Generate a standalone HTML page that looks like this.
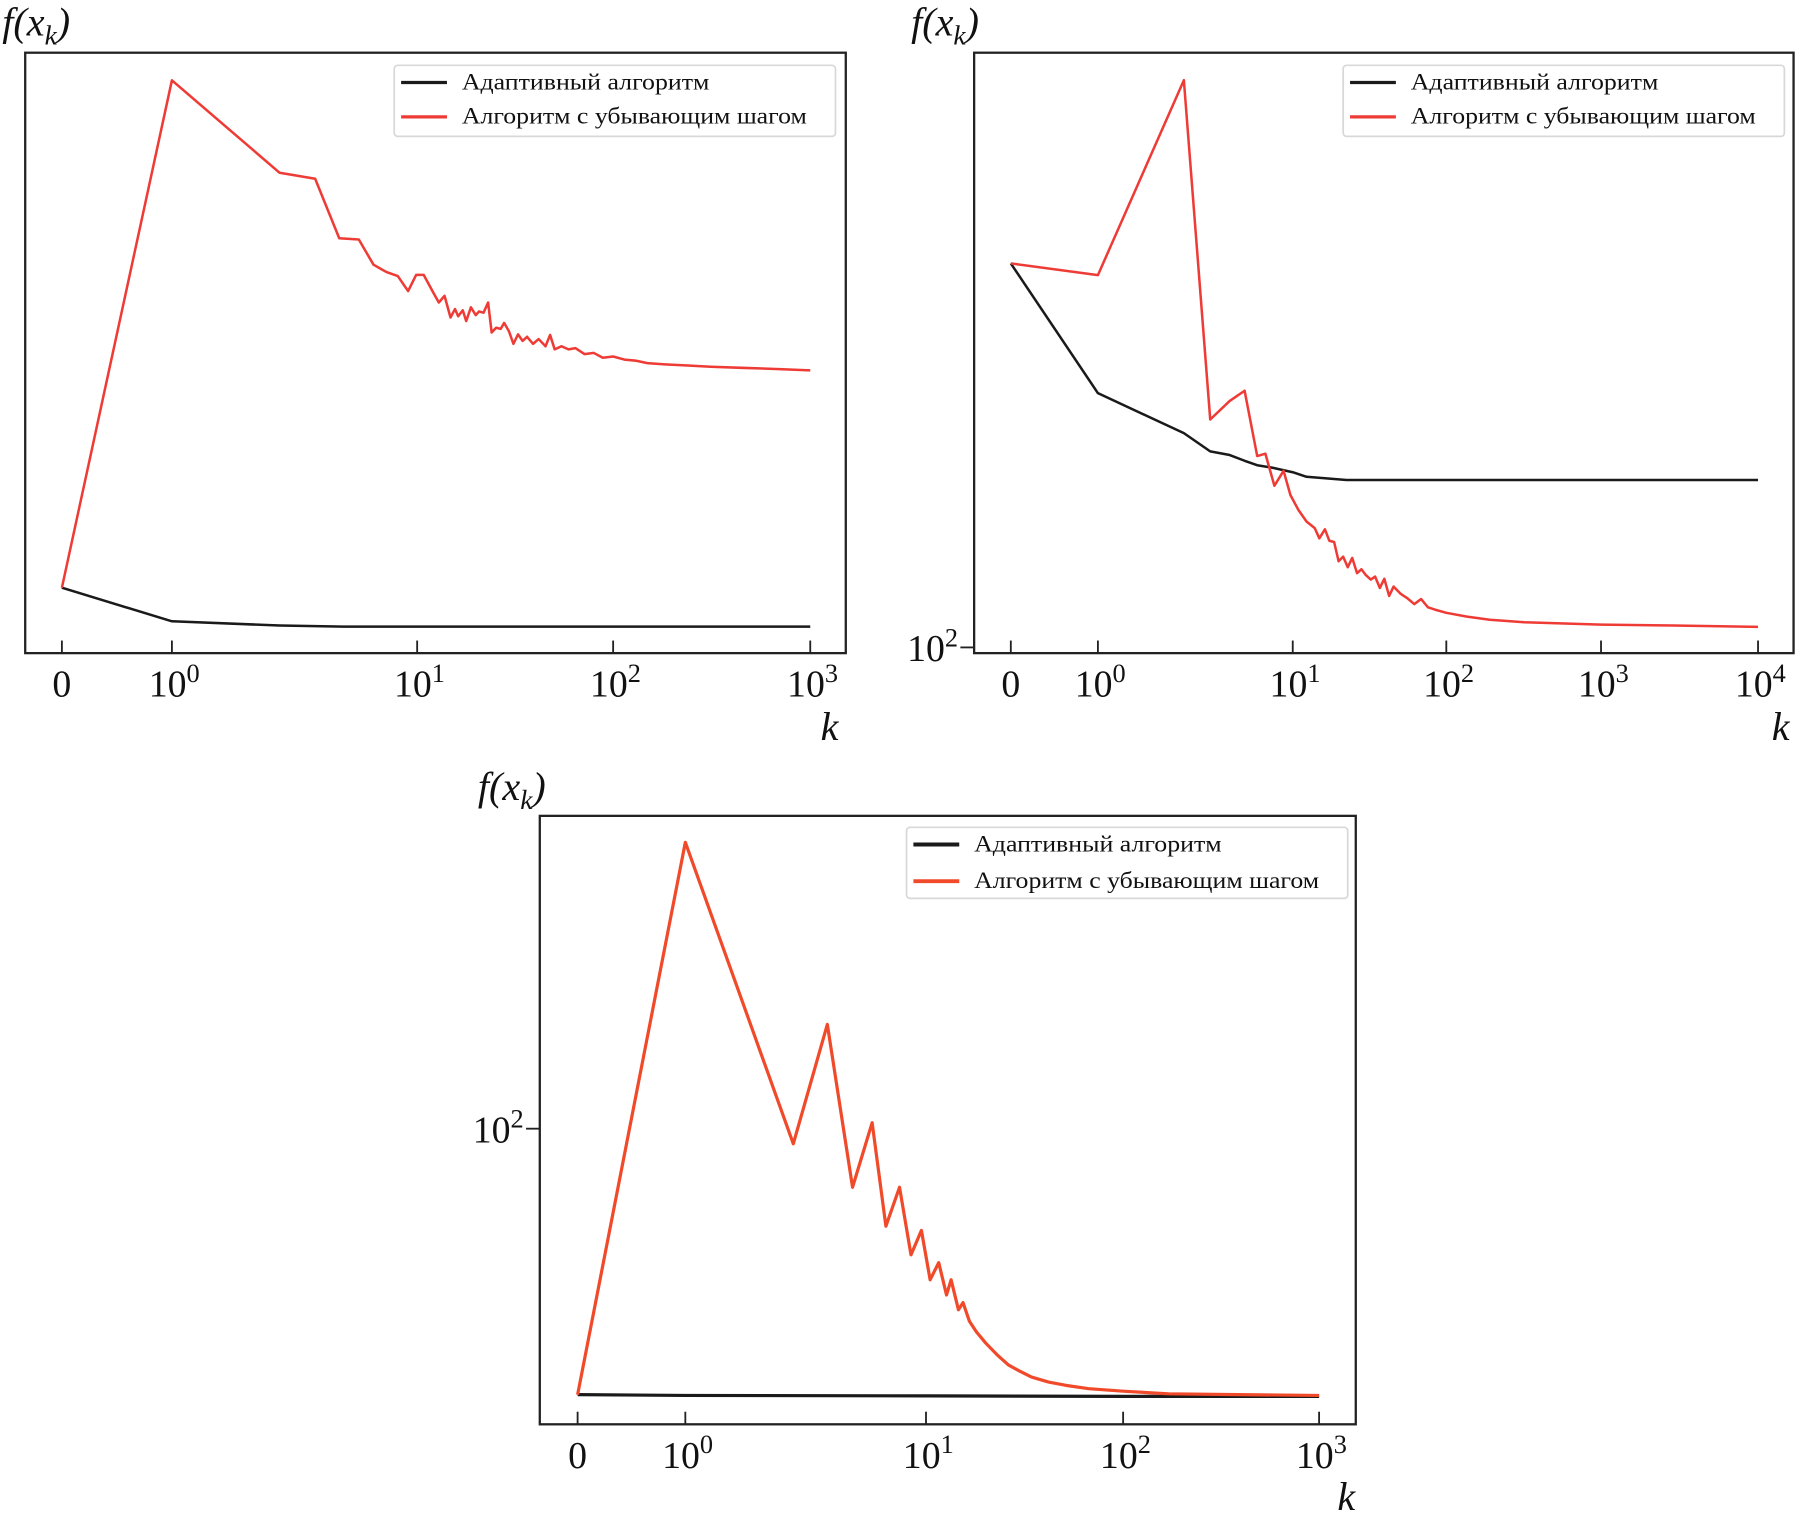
<!DOCTYPE html>
<html><head><meta charset="utf-8"><style>
html,body{margin:0;padding:0;background:#fff;}
svg{display:block;}
text{font-family:"Liberation Serif",serif;fill:#111;}
</style></head><body>
<svg id="fig" width="1797" height="1524" viewBox="0 0 1568 1330" preserveAspectRatio="none" xmlns="http://www.w3.org/2000/svg"></svg>
<script>
// ---------- Chart 1 data ----------
const c1RedK = [0,1,2.75,3.84,4.81,5.78,6.64,7.48,8.34,9.19,9.9,10.8,12.1,12.9,13.8,14.8,15.6,16.2,17.1,17.8,18.8,19.9,20.7,21.8,23.0,24.0,25.3,26.7,27.8,29.4,31.0,32.7,34.5,36.4,39.0,41.7,45.2,47.7,50.3,54.5,59.2,64.1,71.4,79.6,88.6,100,114,131,149,183,239,312,466,697,1000];
const c1RedV = [10.9,95.4,80.0,79.0,69.1,68.9,64.7,63.5,62.8,60.3,63.0,63.0,60.0,58.4,59.5,55.9,57.3,56.1,57.1,55.3,57.6,56.3,56.9,56.7,58.4,53.4,54.2,54.0,55.0,53.6,51.5,53.1,52.0,52.7,51.5,52.3,51.1,53.0,50.6,51.1,50.6,50.8,49.8,50.0,49.2,49.4,48.9,48.7,48.3,48.1,47.9,47.7,47.5,47.3,47.1];
const c1BlackK = [0,1,2.75,5,10,1000];
const c1BlackV = [10.9,5.3,4.6,4.4,4.4,4.4];
const c1TickLabels = ["0","10|0","10|1","10|2","10|3"];
// ---------- Chart 2 data ----------
const c2RedK = [0,1,2.76,3.77,4.75,5.66,6.57,7.23,8.05,8.97,9.73,10.9,12.3,13.9,14.9,16.2,17.3,18.6,19.9,21.3,22.8,24.4,26.2,28.0,30.0,32.2,34.4,36.9,39.5,42.4,45.4,50.3,55.7,61.8,68.5,76.0,84.2,100,136,191,319,1000,2884,10000];
const c2RedV = [216.3,211.3,312.6,158.1,164.1,167.5,146.9,147.6,138.4,142.6,135.8,131.8,128.8,127.1,124.5,126.8,123.9,123.6,118.9,120.0,117.5,119.7,116.1,117.0,115.6,114.6,115.3,112.7,114.8,110.9,113.0,111.4,110.4,109.1,110.2,108.4,107.9,107.2,106.4,105.7,105.2,104.7,104.5,104.2];
const c2BlackK = [0,1,2.76,3.77,4.75,5.66,6.57,7.83,10,12.3,22.4,34.4,10000];
const c2BlackV = [216.3,166.7,153.8,148.3,147.2,145.5,144.2,143.5,142.2,140.9,140.0,140.0,140.0];
const c2TickLabels = ["0","10|0","10|1","10|2","10|3","10|4"];
// ---------- Chart 3 data ----------
const c3RedK = [0,1,2.81,3.89,4.95,5.97,6.81,7.76,8.66,9.57,10.5,11.6,12.7,13.4,14.6,15.4,16.6,18.0,20.1,22.9,26.2,30.0,34.3,41.9,51.2,66.9,100,171,384,1000];
const c3RedV = [58.6,177.8,97.0,123.3,88.9,101.2,82.2,88.9,77.6,81.5,73.8,76.4,71.6,73.8,69.5,70.5,67.9,66.5,65.0,63.5,62.2,61.4,60.7,60.1,59.7,59.3,59.0,58.7,58.6,58.5];
const c3BlackK = [0,1,10,100,1000];
const c3BlackV = [58.6,58.5,58.45,58.4,58.4];
const c3TickLabels = ["0","10|0","10|1","10|2","10|3"];

const NS = "http://www.w3.org/2000/svg";
const svg = document.getElementById('fig');
function mk(tag, attrs, parent){const e=document.createElementNS(NS,tag);for(const k in attrs)e.setAttribute(k,attrs[k]);(parent||svg).appendChild(e);return e;}
function symT(k){return k<=1?k:1+Math.log10(k);}

function drawChart(o){
  const g = mk('g',{});
  
  
  const xs = k => { const t=symT(k); const i=Math.min(Math.floor(t),o.tickPx.length-2); return o.tickPx[i]+(t-i)*(o.tickPx[i+1]-o.tickPx[i]); };
  const ys = o.ys;
  const fr = mk('rect',{x:o.x0,y:o.y0,width:o.x1-o.x0,height:o.y1-o.y0,fill:'none',stroke:'#222','stroke-width':2},g);
  
  
  o.tickPx.forEach((p,i)=>{
    const tk = mk('line',{x1:p,x2:p,y1:o.y1,y2:o.y1-11,stroke:'#222','stroke-width':1.6},g);
    
    
    const parts = o.labels[i].split('|');
    const t = mk('text',{x:p,y:o.y1+38,'font-size':33,'text-anchor':'middle'},g);
    
    
    if(parts.length===1){t.textContent=parts[0];}
    else{
      const a=mk('tspan',{},t);a.textContent=parts[0];
      const b=mk('tspan',{dy:-13,'font-size':23},t);b.textContent=parts[1];
      t.setAttribute('x',p+2);
    }
  });
  if(o.yTick){
    const yy = ys(o.yTick);
    const tk = mk('line',{x1:o.x0,x2:o.x0-12,y1:yy,y2:yy,stroke:'#222','stroke-width':1.6},g);
    
    
    const t = mk('text',{x:o.x0-14,y:yy+12,'font-size':33,'text-anchor':'end'},g);
    
    
    const a=mk('tspan',{},t);a.textContent='10';
    const b=mk('tspan',{dy:-13,'font-size':23},t);b.textContent='2';
  }
  function series(K,V,color,w,name){
    const d = K.map((k,i)=>(i?'L':'M')+xs(k).toFixed(1)+' '+ys(V[i]).toFixed(1)).join(' ');
    const p = mk('path',{d:d,fill:'none',stroke:color,'stroke-width':w,'stroke-linejoin':'round'},g);
    
    
  }
  series(o.bK,o.bV,'#1a1a1a',o.w,'adaptive-line');
  series(o.rK,o.rV,o.red,o.w,'decreasing-step-line');
  const L = mk('g',{},g);
  
  
  mk('rect',{x:o.lx,y:o.ly,width:385,height:62,rx:3,fill:'#fff',stroke:'#d8d8d8','stroke-width':1.5},L);
  const rows=[['Адаптивный алгоритм','#1a1a1a',15,216],['Алгоритм с убывающим шагом',o.red,o.ly2,301]];
  rows.forEach((r,i)=>{
    const yy=o.ly+(i?r[2]:15);
    const ln=mk('line',{x1:o.lx+6,x2:o.lx+46,y1:yy,y2:yy,stroke:r[1],'stroke-width':o.w+0.6},L);
    
    
    const t=mk('text',{x:o.lx+59,y:yy+6,'font-size':20,textLength:r[3],lengthAdjust:'spacingAndGlyphs'},L);
    t.textContent=r[0];
    
    
  });
  const fy = mk('text',{x:o.fx,y:o.fy,'font-size':35,'font-style':'italic'},g);
  
  
  const s1=mk('tspan',{},fy);s1.textContent='f(x';
  const s2=mk('tspan',{dy:8,'font-size':24},fy);s2.textContent='k';
  const s3=mk('tspan',{dy:-8},fy);s3.textContent=')';
  const kx = mk('text',{x:o.kx,y:o.ky,'font-size':35,'font-style':'italic'},g);
  kx.textContent='k';
  
  
}

drawChart({name:'chart-top-left',x0:22,x1:738,y0:46,y1:570,tickPx:[54,150,364,535,707],labels:c1TickLabels,
  ys:v=>570-v*5.24,rK:c1RedK,rV:c1RedV,bK:c1BlackK,bV:c1BlackV,red:'#ee3b36',w:2.2,
  lx:344,ly:57,ly2:45,fx:2,fy:31,kx:716,ky:646});
drawChart({name:'chart-top-right',x0:850,x1:1565,y0:46,y1:570,tickPx:[882,958,1128,1262,1397,1534],labels:c2TickLabels,
  ys:v=>565-1000*Math.log10(v/100),yTick:100,rK:c2RedK,rV:c2RedV,bK:c2BlackK,bV:c2BlackV,red:'#ee3b36',w:2.2,
  lx:1172,ly:57,ly2:45,fx:795,fy:31,kx:1546,ky:646});
drawChart({name:'chart-bottom',x0:471,x1:1183,y0:712,y1:1243,tickPx:[504,598,808,980,1151],labels:c3TickLabels,
  ys:v=>985-1000*Math.log10(v/100),yTick:100,rK:c3RedK,rV:c3RedV,bK:c3BlackK,bV:c3BlackV,red:'#f04a2a',w:2.8,
  lx:791,ly:722,ly2:47,fx:417,fy:698,kx:1167,ky:1318});
</script>
</body></html>
